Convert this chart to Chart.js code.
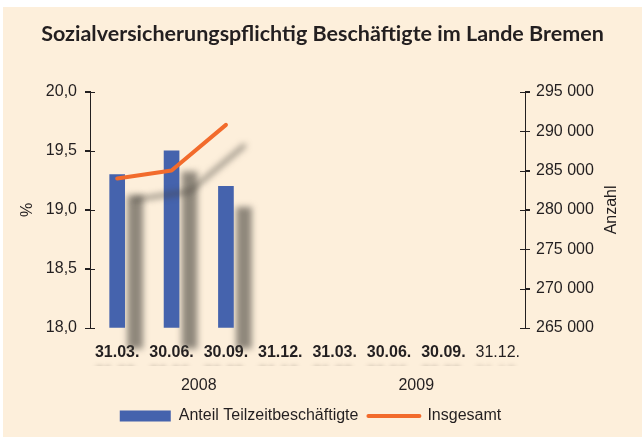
<!DOCTYPE html>
<html>
<head>
<meta charset="utf-8">
<script src="https://cdn.jsdelivr.net/npm/chart.js@4/dist/chart.umd.min.js"></script>
<style>
  html, body { margin: 0; padding: 0; background: #fff; }
  #box { position: absolute; left: 3px; top: 7px; width: 639px; height: 430px; background: #fdefdb; }
</style>
</head>
<body>
<div id="box"><canvas id="c" width="639" height="430"></canvas></div>
<script>
// Sozialversicherungspflichtig Beschaeftigte im Lande Bremen
const categories = ['31.03.', '30.06.', '30.09.', '31.12.', '31.03.', '30.06.', '30.09.', '31.12.'];
const years = ['2008', '2009'];
const teilzeitAnteil = [19.3, 19.5, 19.2, null, null, null, null, null];
const insgesamt = [284000, 285000, 290800, null, null, null, null, null];

const ink = '#231f20';
const blue = '#4563ad';
const orange = '#f26b2c';
const font = 'Liberation Sans, Arial, sans-serif';

// drop shadows like the original graphic
const shadowPlugin = {
  id: 'shadow',
  beforeDatasetDraw(chart) {
    const ctx = chart.ctx;
    ctx.save();
    ctx.shadowColor = 'rgba(70,66,60,0.6)';
    ctx.shadowBlur = 6;
    ctx.shadowOffsetX = 18;
    ctx.shadowOffsetY = 21;
  },
  afterDatasetDraw(chart) {
    chart.ctx.restore();
  },
  beforeDraw(chart) {
    const sx = chart.scales.x;
    if (sx && !sx._shadowed) {
      const orig = sx.drawLabels.bind(sx);
      sx.drawLabels = function(area) {
        const ctx = chart.ctx;
        ctx.save();
        ctx.shadowColor = 'rgba(90,80,70,0.5)';
        ctx.shadowBlur = 4;
        ctx.shadowOffsetX = 0;
        ctx.shadowOffsetY = 21;
        orig(area);
        ctx.restore();
      };
      sx._shadowed = true;
    }
  },
  afterLayout(chart) {
    // legend sits a little left of centre in the original
    if (chart.legend) {
      chart.legend.left -= 12;
      chart.legend.right -= 12;
    }
  }
};

// ticks crossing the axis line, and the right axis title
const axisPlugin = {
  id: 'axisExtras',
  afterDraw(chart) {
    const ctx = chart.ctx;
    ctx.save();
    ctx.strokeStyle = ink;
    ctx.lineWidth = 1;
    ['y', 'y1'].forEach(id => {
      const s = chart.scales[id];
      const ax = id === 'y' ? s.right : s.left;
      s.ticks.forEach((t, i) => {
        const py = Math.round(s.getPixelForTick(i)) + 0.5;
        ctx.beginPath();
        ctx.moveTo(ax - 5, py);
        ctx.lineTo(ax + 5, py);
        ctx.stroke();
      });
    });
    const r = chart.scales.y1;
    ctx.fillStyle = ink;
    ctx.font = '16px ' + font;
    ctx.textAlign = 'center';
    ctx.textBaseline = 'middle';
    ctx.translate(r.right - 30, (chart.chartArea.top + chart.chartArea.bottom) / 2);
    ctx.rotate(-Math.PI / 2);
    ctx.fillText('Anzahl', 0, 0);
    ctx.restore();
  }
};

const legendLabels = (chart) => {
  const items = Chart.defaults.plugins.legend.labels.generateLabels(chart);
  return items.map((it) => {
    if (it.datasetIndex === 0) {
      return Object.assign(it, { pointStyle: 'rect', fillStyle: blue, strokeStyle: blue, lineWidth: 0 });
    }
    return Object.assign(it, { pointStyle: 'line', strokeStyle: orange, lineWidth: 4, lineCap: 'round' });
  });
};

new Chart(document.getElementById('c'), {
  data: {
    labels: categories,
    datasets: [
      {
        type: 'bar',
        label: 'Anteil Teilzeitbeschäftigte',
        data: teilzeitAnteil,
        yAxisID: 'y',
        backgroundColor: blue,
        barThickness: 15,
        base: 18,
        clip: false,
        order: 2
      },
      {
        type: 'line',
        label: 'Insgesamt',
        data: insgesamt,
        yAxisID: 'y1',
        borderColor: orange,
        backgroundColor: orange,
        borderWidth: 4,
        borderCapStyle: 'round',
        borderJoinStyle: 'round',
        pointRadius: 0,
        tension: 0,
        clip: false,
        order: 1
      }
    ]
  },
  options: {
    responsive: false,
    animation: false,
    layout: { padding: { left: 0, right: 0, top: 0, bottom: 3 } },
    scales: {
      x: {
        type: 'category',
        position: 'bottom',
        offset: true,
        grid: { display: false },
        border: { display: false },
        ticks: {
          color: ink,
          padding: 7,
          maxRotation: 0,
          autoSkip: false,
          font: (c) => ({ family: font, size: 16, weight: c.index < 7 ? 'bold' : 'normal' })
        },
        afterFit: (s) => { s.height = 38; }
      },
      x2: {
        type: 'category',
        position: 'bottom',
        labels: years,
        offset: true,
        grid: { display: false },
        border: { display: false },
        ticks: { color: ink, padding: 2, font: { family: font, size: 16 } },
        afterFit: (s) => { s.height = 32; }
      },
      y: {
        position: 'left',
        min: 18,
        max: 20,
        grid: { drawOnChartArea: false, tickLength: 5, color: ink },
        border: { display: true, color: ink, width: 1 },
        ticks: {
          stepSize: 0.5,
          color: ink,
          padding: 8,
          font: { family: font, size: 16 },
          callback: (v) => v.toFixed(1).replace('.', ',')
        },
        title: { display: true, text: '%', color: ink, font: { family: font, size: 16 }, padding: { top: 15, bottom: 0 } },
        afterFit: (s) => { s.width = 87; }
      },
      y1: {
        position: 'right',
        min: 265000,
        max: 295000,
        grid: { drawOnChartArea: false, tickLength: 5, color: ink },
        border: { display: true, color: ink, width: 1 },
        ticks: {
          stepSize: 5000,
          color: ink,
          padding: 6,
          font: { family: font, size: 16 },
          callback: (v) => String(v).replace(/(\d{3})$/, ' $1')
        },
        afterFit: (s) => { s.width = 117; }
      }
    },
    plugins: {
      title: {
        display: true,
        text: 'Sozialversicherungspflichtig Beschäftigte im Lande Bremen',
        color: ink,
        font: { family: 'Lato, sans-serif', size: 21.5, weight: 'bold' },
        padding: { top: 14, bottom: 45 }
      },
      legend: {
        position: 'bottom',
        labels: {
          usePointStyle: true,
          pointStyleWidth: 51,
          boxHeight: 11,
          color: ink,
          padding: 10,
          font: { family: font, size: 16 },
          generateLabels: legendLabels,
          sort: (a, b) => a.datasetIndex - b.datasetIndex
        }
      },
      tooltip: { enabled: false }
    }
  },
  plugins: [shadowPlugin, axisPlugin]
});
</script>
</body>
</html>
